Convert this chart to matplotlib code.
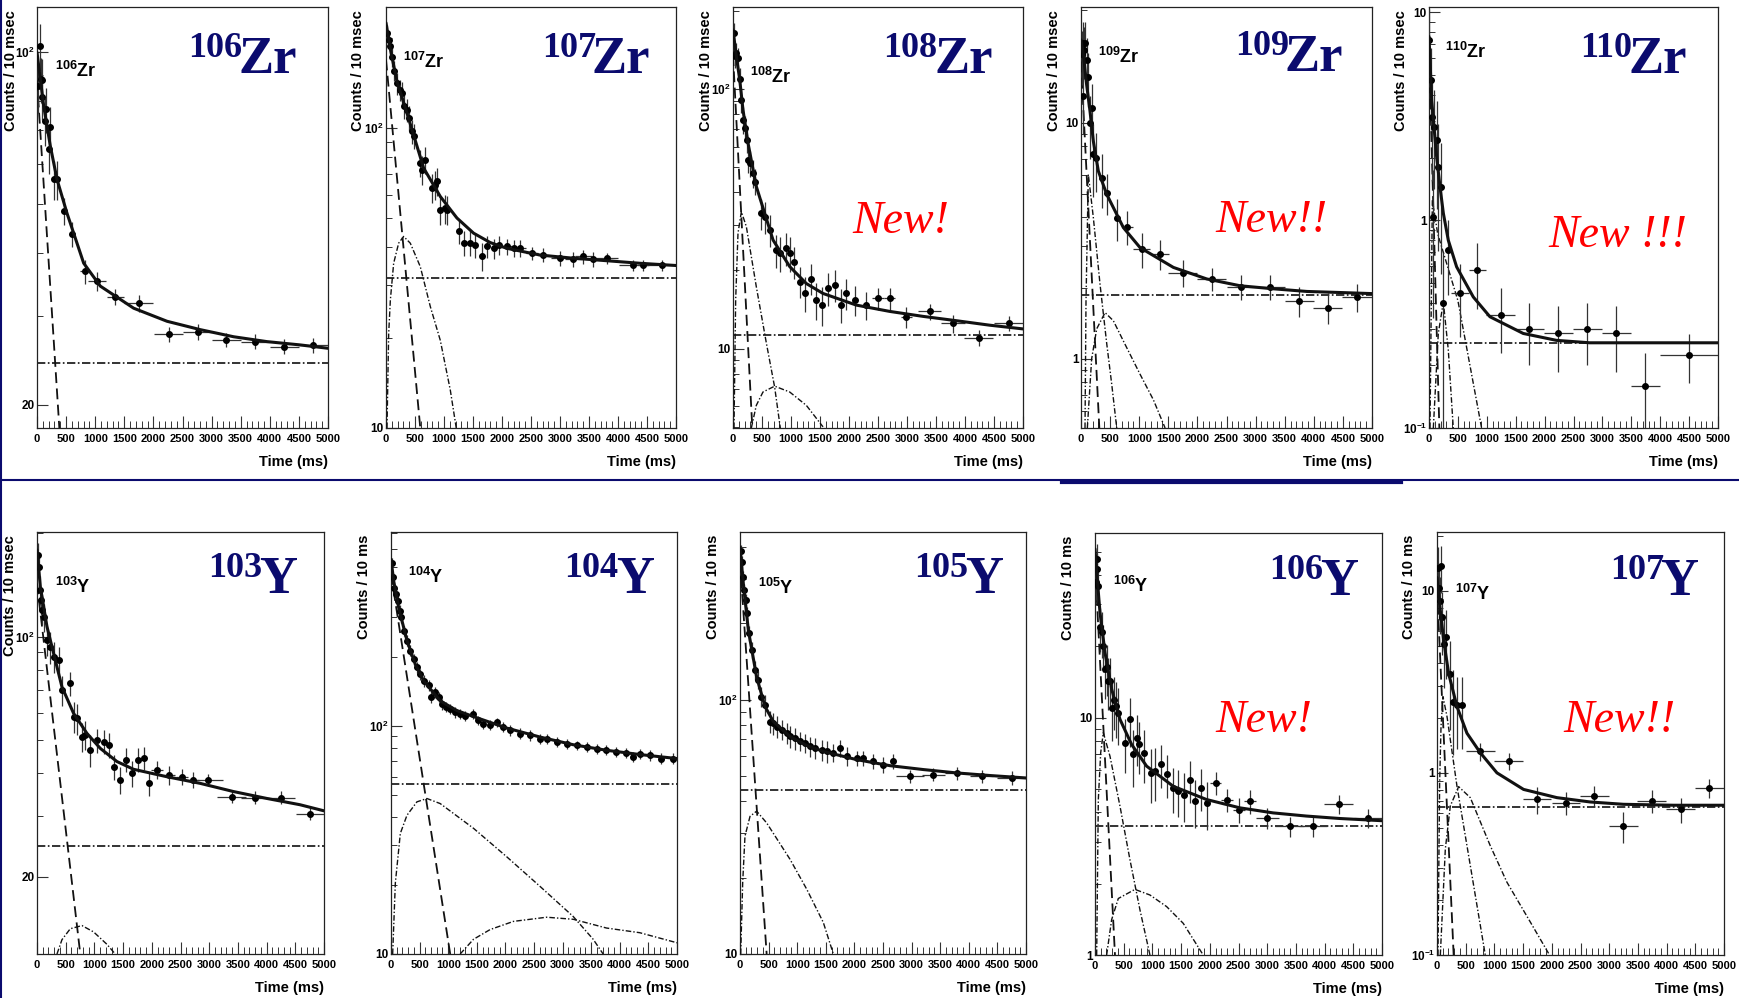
"""
Decay curves of neutron-rich Zr and Y isotopes (10 panels, log counts vs time).
"""

import numpy as np
import matplotlib
matplotlib.use("Agg")
import matplotlib.pyplot as plt
from matplotlib.lines import Line2D
from matplotlib.ticker import (FixedLocator, FixedFormatter, LogLocator,
                               NullFormatter, MultipleLocator)

W, H = 1739, 998
SANS = ["Liberation Sans Narrow", "Liberation Sans", "DejaVu Sans"]
SERIF = ["Liberation Serif", "DejaVu Serif"]
NAVY = "#0b0b6e"

# ---------------------------------------------------------------- data
# points: (time ms, counts, half bin width, counts error)
# curves: (time ms, counts)

zr106_data = [(11, 85.9, 5, 10), (46, 103, 5, 11), (69, 88.5, 5, 9), (92, 88, 5, 9),
              (86, 81.4, 5, 8), (132, 73.1, 5, 8), (160, 77.1, 5, 8), (218, 71, 10, 7),
              (200, 64.3, 10, 7), (286, 56, 25, 5), (344, 56, 25, 5), (458, 48.4, 50, 3),
              (601, 43.6, 50, 2.5), (819, 36.8, 75, 2), (1031, 35.2, 150, 1.5),
              (1346, 32.8, 150, 1.2), (1747, 31.8, 250, 1.2), (2262, 27.6, 250, 1),
              (2760, 27.9, 250, 1), (3253, 26.9, 250, 0.9), (3751, 26.7, 250, 0.9),
              (4249, 26.1, 250, 0.9), (4742, 26.3, 250, 0.9)]
zr106_fit = [(0, 100), (11, 97.7), (115, 78.3), (229, 65.2), (344, 56), (515, 48), (802, 38.2),
             (1088, 34.4), (1661, 31.1), (2234, 29.3), (2806, 28.2), (3379, 27.3),
             (3952, 26.7), (4524, 26.3), (5000, 25.9)]
zr106_parent = [(0, 88), (384, 18)]
zr106_daughter = []
zr106_grand = []
zr106_bg = 24.2
zr106_ylim = (18, 123)
zr106_yticks = [20, 100]
zr106_ylabels = ["20", r"$\mathregular{10^{2}}$"]

zr107_data = [(17, 207, 10, 14), (46, 197, 10, 14), (75, 187, 10, 13), (103, 173, 10, 13),
              (144, 155, 10, 12), (189, 141, 10, 12), (235, 134, 10, 11), (276, 131, 10, 11),
              (304, 118, 10, 11), (362, 115, 10, 10), (390, 108, 10, 10), (448, 97.5, 10, 9),
              (477, 93.8, 10, 9), (591, 76.4, 10, 8), (620, 72.6, 10, 8), (677, 78.4, 10, 8),
              (792, 63.1, 10, 7), (850, 64.7, 10, 7), (878, 66.4, 10, 7), (936, 53.4, 10, 6),
              (1022, 54, 25, 6), (1051, 53.4, 25, 6), (1252, 45.2, 25, 4), (1338, 41.3, 25, 4),
              (1452, 41.3, 25, 4), (1539, 40.8, 25, 4), (1653, 37.3, 25, 4), (1740, 40.3, 25, 3.5),
              (1854, 39.7, 50, 3), (1940, 40.8, 50, 3), (2084, 40.3, 100, 2.5), (2199, 39.7, 100, 2.5),
              (2314, 39.7, 100, 2.5), (2515, 38.2, 100, 2), (2715, 37.7, 100, 2), (3002, 36.8, 150, 2),
              (3232, 36.5, 150, 2), (3404, 37.3, 150, 2), (3577, 36.5, 150, 2), (3806, 36.8, 200, 1.5),
              (4265, 34.9, 250, 1.5), (4438, 34.9, 100, 1.5), (4754, 34.9, 250, 1.5)]
zr107_fit = [(0, 224), (75, 183), (189, 143), (362, 112), (649, 73.5), (936, 59.1), (1223, 50.1),
             (1510, 44.6), (1797, 41.5), (2084, 39.7), (2658, 37.7), (3232, 36.8), (3806, 36.1),
             (4380, 35.4), (5000, 34.8)]
zr107_parent = [(0, 169), (591, 10)]
zr107_daughter = [(17, 10), (46, 20.6), (75, 26.7), (132, 35.4), (218, 41.3), (304, 43.5),
                  (419, 41.3), (591, 34.5), (764, 25.4), (936, 19.6), (1108, 13.4), (1211, 10)]
zr107_grand = []
zr107_bg = 31.6
zr107_ylim = (10, 253)
zr107_yticks = [10, 100]
zr107_ylabels = ["10", r"$\mathregular{10^{2}}$"]

zr108_data = [(17, 164, 5, 15), (29, 134, 5, 13), (57, 138, 5, 13), (86, 132, 5, 12),
              (115, 109, 5, 11), (144, 91, 5, 10), (172, 76.2, 5, 9), (201, 70.7, 5, 8),
              (241, 63.7, 10, 7), (259, 53.3, 10, 6), (287, 51.8, 10, 6), (345, 47.4, 10, 6),
              (385, 44, 10, 5), (489, 33.2, 10, 4.5), (546, 32.2, 10, 4.5), (632, 28.6, 10, 4),
              (747, 24, 10, 3.5), (816, 23.3, 10, 3.5), (920, 24.3, 10, 3.5), (977, 23.3, 10, 3.5),
              (1046, 21.6, 10, 3), (1149, 18.1, 10, 2.5), (1236, 16.3, 10, 2.5), (1350, 18.6, 10, 2.5),
              (1437, 15.4, 10, 2.5), (1540, 14.7, 10, 2.5), (1638, 17.1, 10, 2.5), (1753, 17.6, 10, 2.5),
              (1856, 14.7, 10, 2.2), (1942, 16.3, 10, 2.2), (2098, 15.4, 25, 2), (2299, 14.7, 25, 1.8),
              (2500, 15.6, 100, 1.5), (2701, 15.6, 100, 1.5), (2988, 13.2, 100, 1.2),
              (3391, 13.9, 200, 1), (3793, 12.5, 200, 1), (4241, 11, 250, 0.8), (4758, 12.5, 250, 0.8)]
zr108_fit = [(0, 169), (57, 134), (115, 109), (172, 83.2), (259, 61.9), (402, 42.1), (690, 26.2),
             (977, 20.7), (1264, 17.8), (1552, 16.3), (2126, 14.7), (2701, 13.9), (3276, 13.3),
             (3850, 12.8), (4425, 12.3), (5000, 11.9)]
zr108_parent = [(0, 135), (333, 4.94)]
zr108_daughter = [(17, 4.94), (46, 15.4), (86, 27.8), (144, 33.7), (230, 29.5), (402, 17.3),
                  (575, 10.5), (718, 7.1), (816, 4.94)]
zr108_grand = [(316, 4.94), (402, 6.04), (517, 6.8), (718, 7.16), (977, 6.8), (1264, 6.04),
               (1552, 4.99)]
zr108_bg = 11.3
zr108_ylim = (4.94, 207)
zr108_yticks = [10, 100]
zr108_ylabels = ["10", r"$\mathregular{10^{2}}$"]

zr109_data = [(11, 19.5, 5, 5), (29, 21.8, 5, 5), (40, 13, 5, 4), (57, 20.4, 5, 5), (69, 21.8, 5, 5),
              (97, 18.5, 5, 4.5), (115, 15.7, 5, 4), (155, 10, 10, 3), (183, 11.6, 10, 3),
              (212, 7.35, 10, 2.5), (258, 7.1, 25, 2), (356, 5.86, 25, 1.5), (442, 5.06, 50, 1),
              (614, 3.97, 50, 0.8), (797, 3.63, 100, 0.6), (1044, 2.92, 150, 0.5),
              (1359, 2.78, 150, 0.4), (1749, 2.32, 250, 0.3), (2248, 2.18, 250, 0.25),
              (2752, 2.02, 250, 0.25), (3251, 2.02, 250, 0.25), (3750, 1.76, 250, 0.25),
              (4243, 1.65, 250, 0.25), (4742, 1.83, 250, 0.25)]
zr109_fit = [(0, 22.5), (40, 19.5), (97, 14.5), (155, 11.2), (212, 8.37), (298, 6.25), (442, 4.98),
             (728, 3.6), (1015, 2.96), (1588, 2.44), (2162, 2.18), (2735, 2.04), (3309, 1.98),
             (3882, 1.93), (4455, 1.91), (5000, 1.89)]
zr109_parent = [(0, 18.2), (315, 0.509)]
zr109_daughter = [(69, 0.509), (86, 1.76), (126, 6.05), (212, 3.97), (327, 2.07), (442, 1.16),
                  (528, 0.78), (614, 0.509)]
zr109_grand = [(109, 0.509), (183, 1.0), (270, 1.34), (413, 1.57), (556, 1.45), (728, 1.19),
               (1015, 0.86), (1244, 0.67), (1445, 0.509)]
zr109_bg = 1.87
zr109_ylim = (0.509, 31)
zr109_yticks = [1, 10]
zr109_ylabels = ["1", "10"]

zr110_data = [(0, 7.36, 5, 3), (29, 4.72, 5, 2), (46, 3.15, 5, 1.6), (92, 2.81, 5, 1.4),
              (132, 2.43, 5, 1.3), (161, 1.81, 5, 1.1), (202, 1.45, 5, 0.9), (75, 1.04, 5, 0.7),
              (248, 0.40, 5, 0.3), (334, 0.717, 5, 0.28), (536, 0.444, 150, 0.17),
              (835, 0.574, 150, 0.2), (1238, 0.349, 250, 0.12), (1734, 0.301, 250, 0.1),
              (2235, 0.285, 250, 0.1), (2742, 0.301, 250, 0.1), (3243, 0.285, 250, 0.1),
              (3744, 0.16, 250, 0.07), (4493, 0.224, 500, 0.06)]
zr110_fit = [(0, 7.64), (46, 3.78), (132, 2.02), (190, 1.45), (248, 1.08), (334, 0.8), (478, 0.596),
             (766, 0.427), (1054, 0.343), (1630, 0.285), (2206, 0.264), (2782, 0.257), (5000, 0.257)]
zr110_parent = [(0, 6.59), (179, 0.1)]
zr110_daughter = [(17, 0.1), (58, 1.25), (150, 0.86), (500, 0.41), (910, 0.1)]
zr110_grand = [(75, 0.1), (161, 0.285), (248, 0.404), (334, 0.237), (420, 0.1)]
zr110_bg = 0.257
zr110_ylim = (0.1, 10.6)
zr110_yticks = [0.1, 1, 10]
zr110_ylabels = [r"$\mathregular{10^{-1}}$", "1", "10"]

y103_data = [(12, 173, 5, 15), (29, 160, 5, 14), (46, 137, 5, 13), (70, 128, 5, 12), (87, 120, 5, 12),
             (116, 114, 5, 11), (174, 97.8, 5, 10), (220, 93.5, 5, 10), (290, 87.4, 10, 9),
             (377, 85.5, 10, 8), (435, 70, 10, 7), (568, 73.1, 10, 6), (638, 58.5, 10, 6),
             (696, 57.8, 10, 6), (783, 51.1, 10, 5), (841, 51.8, 10, 5), (928, 46.8, 10, 5),
             (1044, 50, 25, 4), (1160, 49.4, 25, 4), (1247, 48.3, 25, 4), (1346, 41.8, 25, 3.5),
             (1450, 38.3, 25, 3.5), (1554, 43.8, 25, 3.5), (1653, 40, 25, 3.5), (1752, 43.8, 25, 3.5),
             (1856, 44.3, 25, 3.5), (1955, 37.4, 25, 3), (2088, 40.9, 100, 2.5), (2308, 39.5, 100, 2.5),
             (2523, 39.1, 100, 2), (2714, 38.3, 100, 2), (2987, 38.3, 250, 1.5), (3393, 34.2, 250, 1.5),
             (3799, 34, 250, 1.5), (4251, 34, 250, 1.5), (4756, 30.5, 250, 1.2)]
y103_fit = [(0, 179), (58, 140), (174, 107), (290, 89.4), (435, 71.4), (638, 59.8), (870, 52.3),
            (1102, 47.3), (1392, 43.3), (1682, 41.1), (2262, 39.1), (2842, 37.4), (3422, 35.4),
            (4002, 33.8), (4582, 32.4), (5000, 31.1)]
y103_parent = [(0, 143), (754, 11.9)]
y103_daughter = [(348, 11.9), (435, 13.1), (580, 14.1), (783, 14.4), (986, 13.8), (1218, 12.7),
                 (1363, 11.9)]
y103_grand = []
y103_bg = 24.5
y103_ylim = (11.9, 202)
y103_yticks = [20, 100]
y103_ylabels = ["20", r"$\mathregular{10^{2}}$"]

y104_data = [(17, 521, 5, 23), (35, 449, 5, 21), (58, 405, 5, 20), (87, 379, 5, 19), (116, 355, 5, 18),
             (151, 321, 5, 17), (180, 300, 5, 16), (221, 262, 5, 14), (279, 237, 5, 13),
             (337, 214, 5, 12), (395, 197, 5, 11), (453, 181, 5, 10), (512, 169, 5, 9),
             (570, 158, 5, 9), (657, 151, 5, 8), (698, 134, 5, 8), (773, 141, 5, 8), (831, 134, 5, 7),
             (890, 125, 5, 7), (965, 121, 5, 6), (1035, 119, 5, 6), (1122, 115, 5, 6), (1209, 113, 5, 6),
             (1297, 111, 5, 6), (1442, 113, 5, 6), (1529, 106, 5, 5), (1616, 102, 5, 5),
             (1733, 101, 5, 5), (1849, 104, 5, 5), (1965, 99, 5, 5), (2081, 95.7, 10, 5),
             (2256, 92.6, 10, 5), (2430, 91, 10, 5), (2605, 88, 10, 4.5), (2721, 88, 10, 4.5),
             (2895, 85.1, 50, 4), (3070, 83.7, 50, 4), (3244, 82.3, 50, 4), (3419, 80.9, 50, 4),
             (3593, 79.6, 50, 4), (3767, 78.3, 50, 4), (3942, 77, 50, 4), (4116, 76.2, 50, 4),
             (4233, 73.2, 50, 4), (4349, 75.7, 50, 4), (4523, 74.5, 50, 4), (4727, 72, 50, 4),
             (4930, 72, 50, 4)]
y104_fit = [(0, 539), (47, 433), (134, 331), (279, 237), (424, 187), (570, 158), (860, 129),
            (1151, 117), (1442, 110), (2023, 98), (2605, 89.5), (3186, 82.8), (3767, 78.3),
            (4349, 75), (5000, 72)]
y104_parent = [(0, 464), (1035, 10)]
y104_daughter = [(29, 10), (76, 20.5), (163, 33.8), (279, 40.6), (453, 46.5), (628, 48.1),
                 (860, 45.7), (1442, 35.6), (2023, 26.7), (2605, 19.8), (3186, 14.6), (3535, 11.6),
                 (3709, 10)]
y104_grand = [(1209, 10), (1442, 11.6), (1733, 12.8), (2140, 13.9), (2721, 14.5), (3186, 14.2),
              (3767, 13.0), (4349, 12.4), (5000, 11.2)]
y104_bg = 55.6
y104_ylim = (10, 710)
y104_yticks = [10, 100]
y104_ylabels = ["10", r"$\mathregular{10^{2}}$"]

y105_data = [(12, 387, 5, 20), (29, 349, 5, 19), (47, 305, 5, 17), (70, 270, 5, 16), (99, 247, 5, 15),
             (128, 219, 5, 14), (163, 183, 5, 13), (204, 157, 5, 12), (262, 131, 5, 11),
             (309, 120, 5, 10), (367, 103, 5, 9), (437, 95.6, 5, 9), (525, 82.2, 5, 8),
             (583, 81, 5, 8), (641, 78.5, 5, 8), (729, 76.3, 5, 7), (816, 74, 5, 7), (874, 71.8, 5, 7),
             (962, 70.8, 5, 7), (1049, 68.7, 5, 6), (1136, 67.7, 5, 6), (1224, 65.6, 5, 6),
             (1311, 64.6, 5, 6), (1428, 63.6, 5, 6), (1515, 62.7, 5, 6), (1632, 61.8, 5, 5),
             (1748, 64.6, 5, 5), (1865, 60, 5, 5), (2040, 59.1, 25, 4), (2156, 59.1, 25, 4),
             (2331, 57.3, 25, 4), (2506, 55.6, 25, 4), (2681, 57.3, 25, 4), (2972, 50, 250, 3),
             (3380, 50.8, 200, 3), (3788, 51.6, 200, 3), (4225, 50, 200, 3), (4750, 49.3, 250, 3)]
y105_fit = [(0, 399), (58, 287), (146, 188), (291, 123), (437, 94.2), (583, 82.2), (874, 71.8),
            (1166, 66.2), (1457, 62.7), (2040, 58.2), (2623, 55.1), (3205, 53.2), (3788, 51.6),
            (4371, 50.4), (5000, 49.3)]
y105_parent = [(0, 350), (466, 10)]
y105_daughter = [(12, 10), (47, 19.1), (87, 29.1), (175, 34.8), (291, 36.5), (466, 32.8),
                 (874, 23.6), (1166, 18), (1457, 13.3), (1632, 10)]
y105_grand = []
y105_bg = 44.4
y105_ylim = (10, 458)
y105_yticks = [10, 100]
y105_ylabels = ["10", r"$\mathregular{10^{2}}$"]

y106_data = [(12, 37.2, 5, 6), (29, 46.7, 5, 7), (41, 42.4, 5, 6.5), (58, 36, 5, 6), (87, 24, 5, 5),
             (116, 22.9, 5, 5), (145, 20.1, 5, 4.5), (174, 16, 5, 4), (203, 16.3, 5, 4),
             (232, 14.3, 5, 3.5), (261, 14.3, 5, 3.5), (290, 11, 5, 3), (331, 11.9, 5, 3),
             (365, 11.2, 5, 3), (406, 10.5, 5, 2.8), (522, 7.84, 5, 2), (609, 9.84, 5, 2.3),
             (667, 7, 5, 1.9), (725, 8.23, 5, 2), (771, 7.71, 5, 1.9), (858, 7.11, 5, 1.8),
             (974, 5.86, 5, 1.5), (1044, 5.96, 5, 1.5), (1148, 6.36, 5, 1.3), (1247, 5.77, 5, 1.2),
             (1351, 5.06, 5, 1.1), (1450, 4.9, 5, 1.1), (1549, 4.74, 5, 1.1), (1653, 5.48, 5, 1.1),
             (1740, 4.44, 5, 1.0), (1844, 5.06, 5, 1.0), (1943, 4.37, 5, 1.0), (2100, 5.31, 100, 0.6),
             (2303, 4.52, 100, 0.5), (2506, 4.1, 100, 0.5), (2697, 4.44, 100, 0.5),
             (2999, 3.78, 200, 0.4), (3393, 3.48, 250, 0.35), (3799, 3.48, 250, 0.35),
             (4246, 4.34, 250, 0.4), (4756, 3.78, 250, 0.35)]
y106_fit = [(0, 51.4), (29, 41), (87, 27.8), (174, 18.8), (290, 13.2), (435, 9.84), (638, 7.71),
            (899, 6.25), (1363, 5.14), (1943, 4.52), (2523, 4.17), (3103, 3.97), (3683, 3.85),
            (4263, 3.76), (5000, 3.68)]
y106_parent = [(0, 45), (348, 1)]
y106_daughter = [(29, 1), (58, 4.52), (99, 7.11), (145, 8.65), (261, 6.88), (435, 4.24),
                 (609, 2.52), (783, 1.55), (957, 1)]
y106_grand = [(203, 1), (290, 1.41), (406, 1.73), (696, 1.89), (957, 1.79), (1247, 1.6),
              (1537, 1.36), (1885, 1)]
y106_bg = 3.48
y106_ylim = (1, 60)
y106_yticks = [1, 10]
y106_ylabels = ["1", "10"]

y107_data = [(17, 13.4, 5, 4), (29, 10.4, 5, 3.5), (46, 8.82, 5, 3), (70, 13.7, 5, 4), (87, 7.16, 5, 2.7),
             (116, 5.12, 5, 2.2), (162, 5.56, 5, 2.3), (220, 3.51, 10, 1.8), (278, 2.46, 10, 1.2),
             (348, 2.36, 25, 1.0), (435, 2.36, 25, 1.0), (754, 1.31, 250, 0.15), (1247, 1.16, 250, 0.12),
             (1740, 0.716, 250, 0.12), (2245, 0.686, 250, 0.1), (2743, 0.746, 250, 0.1),
             (3248, 0.512, 250, 0.1), (3741, 0.7, 250, 0.1), (4246, 0.631, 250, 0.1),
             (4744, 0.828, 250, 0.1)]
y107_fit = [(0, 11.8), (58, 7.78), (116, 5.34), (203, 3.51), (348, 2.31), (522, 1.65), (754, 1.29),
            (1044, 1.0), (1508, 0.811), (2088, 0.731), (2668, 0.692), (3248, 0.672), (4118, 0.664),
            (5000, 0.664)]
y107_parent = [(0, 10.4), (290, 0.1)]
y107_daughter = [(17, 0.1), (46, 0.88), (70, 1.8), (104, 2.62), (174, 2.04), (348, 0.845),
                 (580, 0.31), (841, 0.1)]
y107_grand = [(58, 0.1), (145, 0.382), (232, 0.658), (377, 0.84), (580, 0.731), (928, 0.398),
              (1218, 0.251), (1624, 0.152), (1960, 0.1)]
y107_bg = 0.653
y107_ylim = (0.1, 21)
y107_yticks = [0.1, 1, 10]
y107_ylabels = [r"$\mathregular{10^{-1}}$", "1", "10"]

mass_numbers = ["106", "107", "108", "109", "110", "103", "104", "105", "106", "107"]
elements = ["Zr"] * 5 + ["Y"] * 5
ytitles = ["Counts / 10 msec"] * 6 + ["Counts / 10 ms"] * 4
new_marks = [None, None, "New!", "New!!", "New !!!", None, None, None, "New!", "New!!"]

# ---------------------------------------------------------------- layout (pixels)
# axes box (left, top, right, bottom)
boxes = [(37, 7, 328, 428), (386, 7, 676, 428), (733, 7, 1023, 428), (1081, 7, 1372, 428),
         (1429, 7, 1718, 428), (37, 532, 324, 954), (391, 532, 677, 954), (740, 532, 1026, 954),
         (1095, 533, 1382, 955), (1437, 532, 1724, 955)]
# big label: (mass left x, element right x, element baseline)
big_pos = [(188, 297, 73), (542, 650, 73), (883, 993, 73), (1235, 1343, 71), (1580, 1687, 73),
           (208, 297, 593), (564, 654, 593), (914, 1003, 593), (1269, 1358, 595), (1610, 1698, 595)]
small_pos = [(55, 77), (403, 68), (750, 83), (1098, 63), (1445, 58),
             (55, 593), (408, 583), (758, 594), (1113, 592), (1455, 600)]
ytitle_x = [11, 358, 706, 1054, 1401, 10, 364, 713, 1068, 1409]
new_pos = [None, None, (852, 233), (1215, 232), (1548, 247),
           None, None, None, (1215, 732), (1563, 732)]

panels = [
    (zr106_data, zr106_fit, zr106_parent, zr106_daughter, zr106_grand, zr106_bg, zr106_ylim, zr106_yticks, zr106_ylabels),
    (zr107_data, zr107_fit, zr107_parent, zr107_daughter, zr107_grand, zr107_bg, zr107_ylim, zr107_yticks, zr107_ylabels),
    (zr108_data, zr108_fit, zr108_parent, zr108_daughter, zr108_grand, zr108_bg, zr108_ylim, zr108_yticks, zr108_ylabels),
    (zr109_data, zr109_fit, zr109_parent, zr109_daughter, zr109_grand, zr109_bg, zr109_ylim, zr109_yticks, zr109_ylabels),
    (zr110_data, zr110_fit, zr110_parent, zr110_daughter, zr110_grand, zr110_bg, zr110_ylim, zr110_yticks, zr110_ylabels),
    (y103_data, y103_fit, y103_parent, y103_daughter, y103_grand, y103_bg, y103_ylim, y103_yticks, y103_ylabels),
    (y104_data, y104_fit, y104_parent, y104_daughter, y104_grand, y104_bg, y104_ylim, y104_yticks, y104_ylabels),
    (y105_data, y105_fit, y105_parent, y105_daughter, y105_grand, y105_bg, y105_ylim, y105_yticks, y105_ylabels),
    (y106_data, y106_fit, y106_parent, y106_daughter, y106_grand, y106_bg, y106_ylim, y106_yticks, y106_ylabels),
    (y107_data, y107_fit, y107_parent, y107_daughter, y107_grand, y107_bg, y107_ylim, y107_yticks, y107_ylabels),
]

plt.rcParams["font.family"] = SANS
plt.rcParams["font.weight"] = "bold"
fig = plt.figure(figsize=(W / 100, H / 100), dpi=100)
fig.patch.set_facecolor("white")


def fx(x):
    return x / W


def fy(y):
    return 1 - y / H


def draw_curve(ax, pts, **kw):
    if not pts:
        return
    c = np.array(pts, float)
    ax.plot(c[:, 0], c[:, 1], color="#111111", **kw)


for i, (data, fit, par, dau, gd, bg, ylim, yt, ylab) in enumerate(panels):
    l, t, r, b = boxes[i]
    ax = fig.add_axes([fx(l), fy(b), (r - l) / W, (b - t) / H])
    ax.set_yscale("log")
    ax.set_xlim(0, 5000)
    ax.set_ylim(*ylim)

    d = np.array(data, float)
    ax.errorbar(d[:, 0], d[:, 1], xerr=d[:, 2], yerr=d[:, 3], fmt="o", ms=4,
                mfc="k", mec="k", ecolor="#333333", elinewidth=0.9, capsize=0, zorder=4)
    ax.plot([0, 5000], [bg, bg], color="#111111", lw=1.2, ls=(0, (5, 1.5, 1, 1.5)), zorder=2)
    draw_curve(ax, par, lw=1.3, ls=(0, (6, 3)), zorder=3)
    draw_curve(ax, dau, lw=1.0, ls=(0, (4, 1.5, 1, 1.5)), zorder=3)
    draw_curve(ax, gd, lw=1.0, ls=(0, (4, 1.5, 1, 1.5)), zorder=3)
    draw_curve(ax, fit, lw=2.2, solid_capstyle="round", zorder=5)

    ax.xaxis.set_major_locator(MultipleLocator(500))
    ax.xaxis.set_minor_locator(MultipleLocator(100))
    ax.yaxis.set_major_locator(FixedLocator(yt))
    ax.yaxis.set_major_formatter(FixedFormatter(ylab))
    ax.yaxis.set_minor_locator(LogLocator(base=10, subs=np.arange(2, 10), numticks=30))
    ax.yaxis.set_minor_formatter(NullFormatter())
    ax.tick_params(axis="x", which="major", direction="in", length=9, width=0.8,
                   labelsize=8, pad=4, top=False, color="#333333")
    ax.tick_params(axis="x", which="minor", direction="in", length=5, width=0.7,
                   top=False, color="#333333")
    ax.tick_params(axis="y", which="major", direction="in", length=8, width=0.8,
                   labelsize=8.5, pad=1.5, right=False, color="#333333")
    ax.tick_params(axis="y", which="minor", direction="in", length=4, width=0.7,
                   right=False, color="#333333")
    for s in ax.spines.values():
        s.set_linewidth(0.9)
        s.set_color("#222222")

    # axis titles
    fig.text(fx(r), fy(b + 34), "Time (ms)", ha="right", va="center", fontsize=10.5)
    fig.text(fx(ytitle_x[i]), fy(t + 3), ytitles[i], rotation=90, ha="center", va="top",
             fontsize=10.5)

    # small in-plot label
    sx, sy = small_pos[i]
    fig.text(fx(sx), fy(sy), r"$^{\mathregular{%s}}\mathregular{%s}$" % (mass_numbers[i], elements[i]),
             fontsize=13, ha="left", va="baseline")

    # large nuclide label
    nx, ex, ey = big_pos[i]
    fig.text(fx(nx), fy(ey - 16), mass_numbers[i], family=SERIF, fontweight="bold",
             fontsize=26, color=NAVY, ha="left", va="baseline")
    fig.text(fx(ex), fy(ey), elements[i], family=SERIF, fontweight="bold",
             fontsize=38, color=NAVY, ha="right", va="baseline")

    if new_marks[i]:
        px, py = new_pos[i]
        fig.text(fx(px), fy(py), new_marks[i], family=SERIF, style="italic",
                 fontweight="normal", fontsize=33, color="red", ha="left", va="baseline")

# slide frame lines
fig.add_artist(Line2D([0, 1], [fy(480), fy(480)], transform=fig.transFigure, color=NAVY, lw=1.5))
fig.add_artist(Line2D([fx(1062), fx(1401)], [fy(481.5), fy(481.5)], transform=fig.transFigure,
                      color=NAVY, lw=3))
fig.add_artist(Line2D([fx(1), fx(1)], [0, 1], transform=fig.transFigure, color=NAVY, lw=1.5))

fig.savefig("out.png", dpi=100)
